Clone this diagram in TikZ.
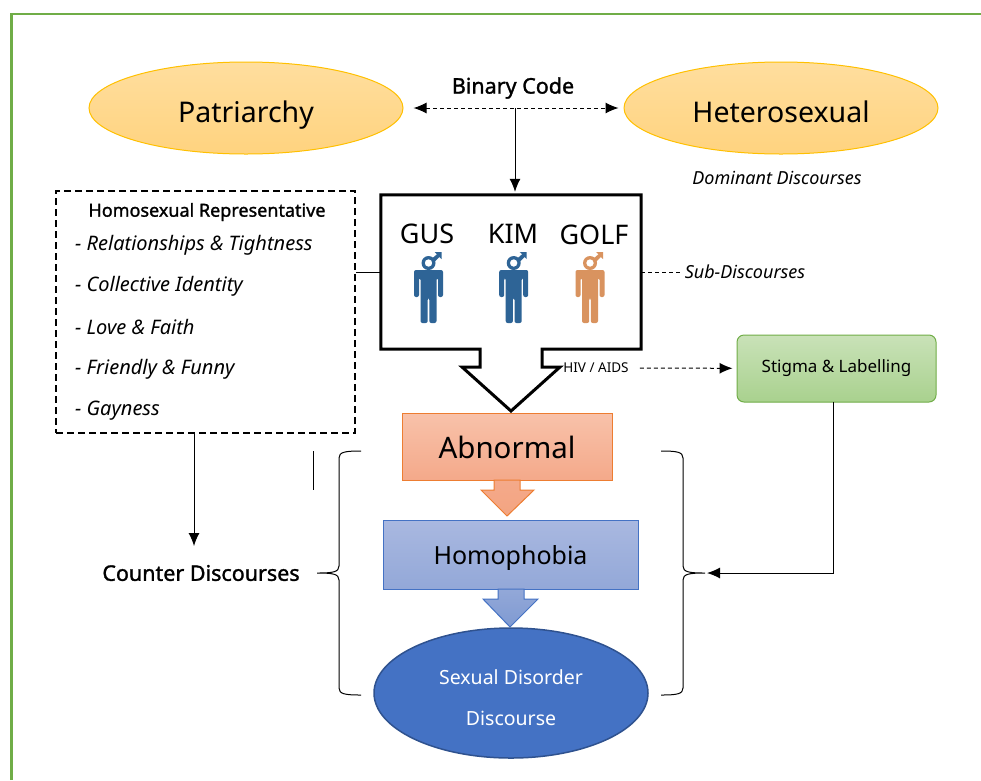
\documentclass[tikz,border=0pt]{standalone}
\usepackage{fontspec}
\setmainfont{Noto Sans}[BoldFont={Noto Sans},BoldFeatures={FakeBold=1.4}]
\usetikzlibrary{arrows.meta,shapes.geometric}
\definecolor{framegreen}{HTML}{70AD47}
\definecolor{manblue}{HTML}{2E6496}
\definecolor{manorange}{HTML}{D9935F}
\definecolor{ovalline}{HTML}{FFC000}
\definecolor{ovaltop}{HTML}{FFDE9E}
\definecolor{ovalbottom}{HTML}{FFD37F}
\definecolor{stigmatop}{HTML}{C9E2B8}
\definecolor{stigmabottom}{HTML}{A9D18E}
\definecolor{abnormalline}{HTML}{ED7D31}
\definecolor{abnormaltop}{HTML}{F8C2AA}
\definecolor{abnormalbottom}{HTML}{F4A98A}
\definecolor{phobialine}{HTML}{4472C4}
\definecolor{phobiatop}{HTML}{A9B8E0}
\definecolor{phobiabottom}{HTML}{93A8D8}
\definecolor{phobiaarrow}{HTML}{7F9AD2}
\definecolor{disorderline}{HTML}{2F528F}
\tikzset{>={Latex[length=13pt,width=11pt]}}
\tikzset{
  link/.style={line width=1pt},
  dashlink/.style={line width=1pt,dash pattern=on 4pt off 3pt},
  bigoval/.style={ellipse,draw=ovalline,line width=1pt,top color=ovaltop,bottom color=ovalbottom,minimum width=314pt,minimum height=92pt,inner sep=0pt,text height=28pt,text depth=0pt,font=\fontsize{28.5}{30}\selectfont},
  listitem/.style={anchor=west,inner sep=0pt,font=\fontsize{20}{24}\itshape\selectfont},
  namelabel/.style={inner sep=0pt,font=\fontsize{27}{30}\selectfont},
  boldlabel/.style={inner sep=0pt,font=\fontsize{21.5}{26}\bfseries\selectfont},
  sidelabel/.style={inner sep=0pt,font=\fontsize{18}{22}\itshape\selectfont},
  whitelabel/.style={inner sep=0pt,text=white,font=\fontsize{19.5}{24}\selectfont},
  pics/manicon/.style={code={
    \fill[pic actions,even odd rule] (0,-7) circle [radius=7] (0,-7) circle [radius=3.8];
    \fill[pic actions] (6,-18) -- (13,-18) -- (13,-11) -- (10.8,-13) -- (6,-8) -- (3.5,-11.5) -- (8.5,-15.8) -- cycle;
    \fill[pic actions,rounded corners=2] (-14.5,27) -- (-14.5,0) -- (14.5,0) -- (14.5,27) -- (9.5,27) -- (9.5,8) -- (8,8) -- (8,53) -- (0.8,53) -- (0.8,28) -- (-0.8,28) -- (-0.8,53) -- (-8,53) -- (-8,8) -- (-9.5,8) -- (-9.5,27) -- cycle;
  }}
}
\begin{document}
\begin{tikzpicture}[x=1pt,y=-1pt]
  \useasboundingbox (0,0) rectangle (981,780);
  \draw[framegreen,line width=2.5pt] (11.5,780) -- (11.5,14) -- (981,14);
  % top row
  \node[bigoval] (patriarchy) at (246,108) {Patriarchy};
  \node[bigoval] (hetero) at (781,108) {Heterosexual};
  \node[boldlabel] (binary) at (513,88) {Binary Code};
  \node[sidelabel] (dominant) at (777,178) {Dominant Discourses};
  \draw[<->,dashlink,shorten <=10pt,shorten >=5pt] (patriarchy) -- (hetero);
  \coordinate (binarymid) at (515,108);
  % group box with the three men
  \node[minimum width=260pt,minimum height=154pt,inner sep=0pt] (groupbox) at (511,272) {};
  \draw[line width=3pt,fill=white,miter limit=10] (groupbox.north west) -- (groupbox.north east) -- (groupbox.south east) -- (542,349) -- (542,367) -- (560,367) -- (511,411) -- (462,367) -- (480,367) -- (480,349) -- (groupbox.south west) -- cycle;
  \draw[->,link] (binarymid) -- ([xshift=4pt,yshift=3pt]groupbox.north);
  \node[namelabel] (gus) at (427,234) {GUS};
  \node[namelabel] (kim) at (513,234) {KIM};
  \node[namelabel] (golf) at (594,235) {GOLF};
  \pic[fill=manblue] at (428.5,270) {manicon};
  \pic[fill=manblue] at (513.7,270) {manicon};
  \pic[fill=manorange] at (590,270) {manicon};
  \node[sidelabel] (subdisc) at (745,272) {Sub-Discourses};
  \draw[dashlink,shorten >=5pt] (groupbox.east) -- (groupbox.east -| subdisc.west);
  % representative box
  \node[draw,line width=2pt,dash pattern=on 7pt off 4pt,minimum width=299pt,minimum height=242pt,inner sep=0pt] (repbox) at (205.5,312) {};
  \node[boldlabel,font=\fontsize{18}{22}\bfseries\selectfont] (reptitle) at (207,212) {Homosexual Representative};
  \node[listitem] (item1) at (75,245) {- Relationships \& Tightness};
  \node[listitem] (item2) at (75,286) {- Collective Identity};
  \node[listitem] (item3) at (75,327) {- Love \& Faith};
  \node[listitem] (item4) at (75,369) {- Friendly \& Funny};
  \node[listitem] (item5) at (75,411) {- Gayness};
  \draw[link] (repbox.east |- groupbox) -- (groupbox.west);
  % stigma
  \node[inner sep=0pt,font=\fontsize{13.5}{16}\selectfont] (hiv) at (596,368) {HIV / AIDS};
  \node[draw=framegreen,line width=1pt,rounded corners=7pt,top color=stigmatop,bottom color=stigmabottom,minimum width=199pt,minimum height=67pt,inner sep=0pt,font=\fontsize{17}{20}\selectfont] (stigma) at (836.5,368.5) {Stigma \& Labelling};
  \draw[->,dashlink,shorten <=11pt,shorten >=4pt] (hiv) -- (stigma);
  % centre column
  \node[draw=abnormalline,line width=1pt,top color=abnormaltop,bottom color=abnormalbottom,minimum width=210pt,minimum height=67pt,inner sep=0pt,text height=24pt,text depth=0pt,font=\fontsize{29.5}{32}\selectfont] (abnormal) at (507,446.5) {Abnormal};
  \draw[abnormalline,line width=1pt,top color=abnormalbottom,bottom color=abnormalbottom!90!abnormalline] (494,480) -- (520,480) -- (520,490) -- (534,490) -- (507,516) -- (481,490) -- (494,490) -- cycle;
  \node[draw=phobialine,line width=1pt,top color=phobiatop,bottom color=phobiabottom,minimum width=255pt,minimum height=69pt,inner sep=0pt,text height=20pt,text depth=0pt,font=\fontsize{25}{30}\selectfont] (homophobia) at (510.5,554.5) {Homophobia};
  \draw[phobialine,line width=1pt,top color=phobiabottom,bottom color=phobiaarrow] (498,589) -- (524,589) -- (524,599) -- (538,599) -- (510,627) -- (483,599) -- (498,599) -- cycle;
  \node[ellipse,draw=disorderline,line width=1.5pt,fill=phobialine,minimum width=274pt,minimum height=130pt,inner sep=0pt] (disorder) at (511,693) {};
  \node[whitelabel] (disorder1) at (511,677) {Sexual Disorder};
  \node[whitelabel] (disorder2) at (511,718) {Discourse};
  % braces
  \draw[link] (361,451) .. controls (345,451) and (339,452) .. (339,458) -- (339,566) .. controls (339,572) and (333,573) .. (317,573) .. controls (333,573) and (339,574) .. (339,580) -- (339,688) .. controls (339,694) and (345,695) .. (361,695);
  \draw[link] (661,451) .. controls (677,451) and (683,452) .. (683,458) -- (683,566) .. controls (683,572) and (689,573) .. (705,573) .. controls (689,573) and (683,574) .. (683,580) -- (683,688) .. controls (683,694) and (677,695) .. (661,695);
  \draw[link] (313,451) -- (313,490);
  \node[boldlabel] (counter) at (201,573) {Counter Discourses};
  \coordinate (counterin) at (194,546);
  \coordinate (stigmaout) at (833,402);
  \coordinate (rightbrace) at (707,573);
  \draw[->,link] (repbox.south -| counterin) -- (counterin);
  \draw[->,link] (stigmaout) |- (rightbrace);
\end{tikzpicture}
\end{document}
